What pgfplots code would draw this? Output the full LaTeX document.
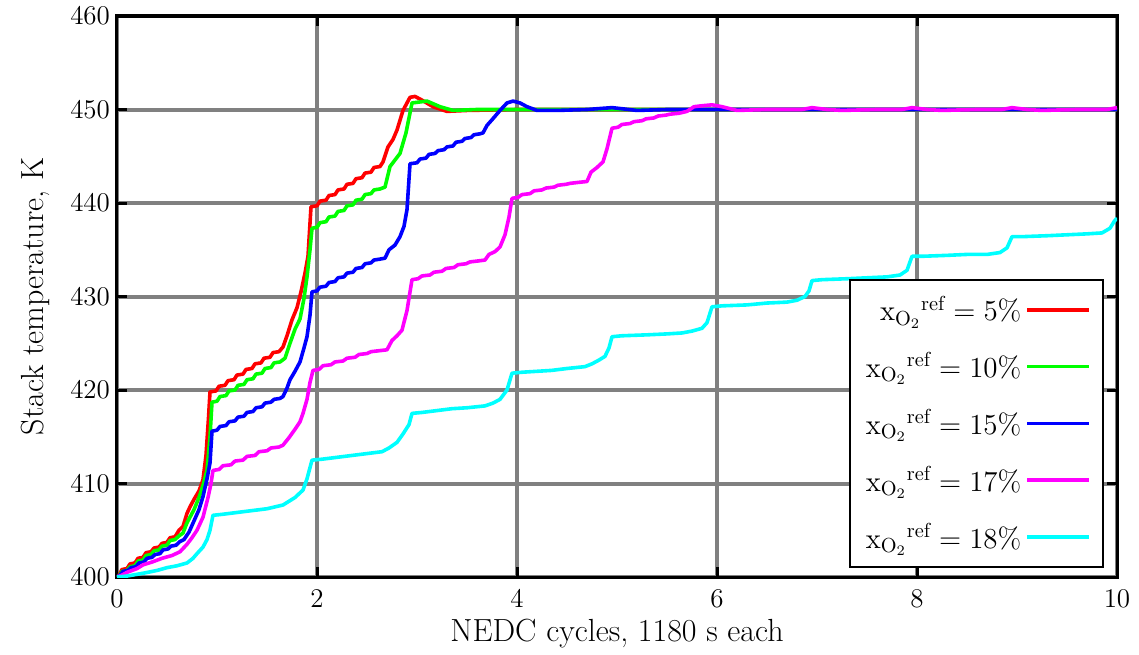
\RequirePackage{fix-cm}
\documentclass[border=0pt]{standalone}
\usepackage{fontspec}
\usepackage{pgfplots}
\pgfplotsset{compat=1.18}
\definecolor{cR}{RGB}{255,0,0}
\definecolor{cG}{RGB}{0,255,0}
\definecolor{cB}{RGB}{0,0,255}
\definecolor{cM}{RGB}{255,0,255}
\definecolor{cC}{RGB}{0,255,255}
\definecolor{gridgray}{RGB}{128,128,128}
\begin{document}
\begin{tikzpicture}
\begin{axis}[
  scale only axis,
  width=500pt, height=280.5pt,
  xmin=0, xmax=10, ymin=400, ymax=460,
  xtick={0,2,4,6,8,10},
  ytick={400,410,420,430,440,450,460},
  grid=major,
  major grid style={line width=2pt, color=gridgray},
  axis line style={line width=1.5pt, black},
  tick style={black, line width=1.5pt},
  major tick length=5pt,
  tick align=inside,
  ticklabel style={font=\fontsize{13.5}{13.5}\selectfont},
  xticklabel style={yshift=-3pt},
  xlabel={NEDC cycles, 1180 s each},
  ylabel={Stack temperature, K},
  every axis x label/.style={at={(axis description cs:0.5,-0.1)}, anchor=center, font=\fontsize{16}{16}\selectfont},
  every axis y label/.style={at={(axis description cs:-0.082,0.5)}, rotate=90, anchor=center, font=\fontsize{16}{16}\selectfont},
  legend cell align=right,
  legend plot pos=right,
  legend style={at={(rel axis cs:0.987,0.016)}, anchor=south east, draw=black, line width=1pt,
    fill=white, font=\fontsize{14.5}{14.5}\selectfont, row sep=10.5pt, inner xsep=6pt, inner ysep=6pt},
  legend image code/.code={\draw[#1] (0pt,0pt) -- (31pt,0pt);},
  every axis plot/.append style={line width=1.8pt, line join=round},
]
\coordinate (O) at (rel axis cs:0,0);
\addplot[cR] coordinates {
(0,400)(0.02,400.2)(0.05,400.8)(0.1,400.9)(0.13,401.4)(0.18,401.5)(0.21,402.0)(0.26,402.1)(0.29,402.6)(0.34,402.7)(0.37,403.1)(0.42,403.2)(0.45,403.6)(0.5,403.7)(0.53,404.2)(0.58,404.3)(0.62,405.0)(0.66,405.4)(0.7,406.8)(0.73,407.5)(0.77,408.3)(0.82,409.2)(0.86,410.4)(0.89,413)(0.915,417)(0.93,419.8)
(0.99,419.9)(1.02,420.4)(1.08,420.5)(1.11,421.0)(1.17,421.1)(1.20,421.6)(1.26,421.7)(1.29,422.2)(1.35,422.3)(1.38,422.8)(1.44,422.9)(1.47,423.4)(1.53,423.5)(1.56,424.0)(1.62,424.1)(1.66,424.6)
(1.70,425.8)(1.75,427.5)(1.80,428.8)(1.84,430.5)(1.88,432.5)(1.91,434.3)(1.94,439.6)
(2.0,439.7)(2.03,440.2)(2.09,440.3)(2.12,440.8)(2.18,440.9)(2.21,441.4)(2.27,441.5)(2.30,442.0)(2.36,442.1)(2.39,442.6)(2.45,442.7)(2.48,443.2)(2.54,443.3)(2.57,443.8)(2.63,443.9)(2.66,444.4)
(2.71,446.0)(2.76,446.8)(2.80,447.8)(2.86,449.9)(2.93,451.3)(2.98,451.4)(3.05,451.0)(3.16,450.3)(3.3,449.8)(3.5,449.9)(4,450.0)(10,450.0)
};
\addlegendentry{${\mathrm{x}_{\mathrm{O}_2}}^{\mathrm{ref}} = 5\%$}
\addplot[cG] coordinates {
(0,400)(0.02,400.1)(0.05,400.6)(0.1,400.7)(0.13,401.1)(0.18,401.2)(0.21,401.7)(0.26,401.8)(0.29,402.3)(0.34,402.4)(0.37,402.8)(0.42,402.9)(0.45,403.3)(0.5,403.4)(0.53,403.9)(0.58,404.0)(0.62,404.4)(0.66,404.7)(0.7,405.8)(0.77,407.2)(0.82,408.5)(0.86,409.8)(0.9,411.4)(0.93,415)(0.95,418.7)
(1.0,418.8)(1.03,419.3)(1.09,419.4)(1.12,419.9)(1.18,420.0)(1.21,420.5)(1.27,420.6)(1.30,421.1)(1.36,421.2)(1.39,421.7)(1.45,421.8)(1.48,422.3)(1.54,422.4)(1.57,422.9)(1.63,423.0)(1.68,423.4)(1.73,425.0)(1.78,426.5)(1.83,427.6)(1.87,429.8)(1.9,432.1)(1.93,435)(1.95,437.3)
(2.0,437.4)(2.03,437.9)(2.09,438.0)(2.12,438.5)(2.18,438.6)(2.21,439.1)(2.27,439.2)(2.30,439.7)(2.36,439.8)(2.39,440.3)(2.45,440.4)(2.48,440.9)(2.54,441.0)(2.57,441.4)(2.63,441.5)(2.68,441.7)(2.73,443.9)(2.78,444.6)(2.83,445.3)(2.89,447.5)(2.95,450.7)(3.1,450.9)(3.23,450.3)(3.36,449.9)(3.6,450.0)(10,450.0)
};
\addlegendentry{${\mathrm{x}_{\mathrm{O}_2}}^{\mathrm{ref}} = 10\%$}
\addplot[cB] coordinates {
(0,400)(0.03,400.2)(0.06,400.6)(0.11,400.7)(0.14,401.0)(0.19,401.1)(0.22,401.5)(0.27,401.6)(0.30,402.0)(0.35,402.1)(0.38,402.4)(0.43,402.5)(0.46,402.9)(0.51,403.0)(0.54,403.3)(0.59,403.4)(0.63,403.8)(0.67,404.0)(0.72,404.8)(0.77,406.0)(0.82,407.2)(0.86,408.6)(0.9,410.5)(0.93,412.2)(0.95,415.6)
(1.0,415.7)(1.03,416.1)(1.09,416.2)(1.12,416.6)(1.18,416.7)(1.21,417.1)(1.27,417.2)(1.30,417.6)(1.36,417.7)(1.39,418.1)(1.45,418.2)(1.48,418.6)(1.54,418.7)(1.57,419.0)(1.63,419.1)(1.66,419.3)(1.70,420.2)(1.73,421.1)(1.78,422.0)(1.83,423.0)(1.87,424.5)(1.9,425.7)(1.93,428)(1.95,430.5)
(2.0,430.6)(2.03,431.0)(2.09,431.1)(2.12,431.5)(2.18,431.6)(2.21,432.0)(2.27,432.1)(2.30,432.5)(2.36,432.6)(2.39,433.0)(2.45,433.1)(2.48,433.5)(2.54,433.6)(2.57,433.9)(2.63,434.0)(2.68,434.1)(2.72,435.0)(2.78,435.5)(2.83,436.4)(2.87,437.5)(2.9,439.3)(2.93,444.2)
(3.0,444.3)(3.03,444.7)(3.09,444.8)(3.12,445.2)(3.18,445.3)(3.21,445.6)(3.27,445.7)(3.30,446.0)(3.36,446.1)(3.39,446.5)(3.45,446.6)(3.48,446.9)(3.54,447.0)(3.57,447.3)(3.63,447.4)(3.66,447.5)(3.7,448.3)(3.75,448.9)(3.83,449.9)(3.9,450.7)(3.96,450.9)(4.03,450.7)(4.1,450.3)(4.2,449.9)(4.4,449.9)(4.7,450.0)(4.95,450.2)(5.2,449.9)(5.5,450.0)(10,450.0)
};
\addlegendentry{${\mathrm{x}_{\mathrm{O}_2}}^{\mathrm{ref}} = 15\%$}
\addplot[cM] coordinates {
(0,400)(0.05,400.2)(0.1,400.5)(0.2,400.9)(0.26,401.3)(0.35,401.6)(0.45,402.0)(0.55,402.3)(0.63,402.7)(0.7,403.5)(0.75,404.2)(0.8,405.0)(0.86,406.4)(0.91,408.5)(0.94,410)(0.96,411.4)
(1.02,411.5)(1.06,411.9)(1.14,412.0)(1.18,412.4)(1.26,412.5)(1.30,412.9)(1.38,413.0)(1.42,413.4)(1.50,413.5)(1.54,413.8)(1.62,413.9)(1.66,414.1)(1.72,414.9)(1.78,415.8)(1.83,416.6)(1.86,417.5)(1.9,419)(1.93,420.8)(1.96,422.1)
(2.02,422.2)(2.06,422.6)(2.14,422.7)(2.18,423.0)(2.26,423.1)(2.30,423.4)(2.38,423.5)(2.42,423.8)(2.50,423.9)(2.54,424.1)(2.62,424.2)(2.7,424.3)(2.75,425.3)(2.8,425.8)(2.85,426.4)(2.9,428.5)(2.95,431.8)
(3.01,431.9)(3.05,432.2)(3.13,432.3)(3.17,432.6)(3.25,432.7)(3.29,433.0)(3.37,433.1)(3.41,433.4)(3.49,433.5)(3.53,433.7)(3.61,433.8)(3.68,433.9)(3.72,434.5)(3.78,434.8)(3.83,435.3)(3.88,436.6)(3.92,438.5)(3.95,440.5)
(4.01,440.6)(4.05,440.9)(4.13,441.0)(4.17,441.3)(4.25,441.4)(4.29,441.6)(4.37,441.7)(4.41,441.9)(4.49,442.0)(4.53,442.1)(4.61,442.2)(4.7,442.3)(4.74,443.3)(4.8,443.8)(4.86,444.4)(4.9,445.8)(4.95,448.0)
(5.01,448.1)(5.05,448.4)(5.13,448.5)(5.17,448.7)(5.25,448.8)(5.29,449.0)(5.37,449.1)(5.41,449.3)(5.49,449.4)(5.53,449.5)(5.62,449.6)(5.7,449.8)(5.77,450.3)(5.85,450.4)(5.95,450.5)(6.05,450.3)(6.2,449.9)(6.5,450.0)(6.85,450.0)(6.95,450.2)(7.1,450.0)(7.25,449.9)(7.6,450.0)(7.85,450.0)(7.95,450.2)(8.1,450.0)(8.25,449.9)(8.6,450.0)(8.85,450.0)(8.95,450.2)(9.1,450.0)(9.25,449.9)(9.6,450.0)(9.9,450.0)(10,450.2)
};
\addlegendentry{${\mathrm{x}_{\mathrm{O}_2}}^{\mathrm{ref}} = 17\%$}
\addplot[cC] coordinates {
(0,400)(0.1,400.1)(0.26,400.4)(0.4,400.7)(0.5,401.0)(0.6,401.2)(0.7,401.5)(0.76,402.0)(0.8,402.5)(0.86,403.2)(0.9,404.0)(0.93,405.0)(0.96,406.6)
(1.05,406.7)(1.2,406.9)(1.35,407.1)(1.5,407.3)(1.66,407.7)(1.72,408.1)(1.78,408.5)(1.86,409.3)(1.9,410.5)(1.95,412.5)
(2.05,412.6)(2.2,412.8)(2.35,413.0)(2.5,413.2)(2.65,413.4)(2.72,413.8)(2.8,414.4)(2.86,415.3)(2.92,416.3)(2.95,417.5)
(3.05,417.6)(3.2,417.8)(3.35,418.0)(3.5,418.1)(3.68,418.3)(3.76,418.6)(3.83,419.0)(3.9,420.0)(3.95,421.8)
(4.05,421.9)(4.2,422.0)(4.35,422.1)(4.5,422.3)(4.68,422.5)(4.75,422.8)(4.82,423.2)(4.88,423.6)(4.92,424.5)(4.95,425.7)
(5.05,425.8)(5.3,425.9)(5.5,426.0)(5.65,426.1)(5.75,426.3)(5.85,426.6)(5.9,427.2)(5.95,428.9)
(6.05,429.0)(6.3,429.1)(6.5,429.3)(6.7,429.4)(6.8,429.6)(6.88,430.0)(6.92,430.6)(6.95,431.7)
(7.05,431.8)(7.3,431.9)(7.5,432.0)(7.7,432.1)(7.83,432.3)(7.9,432.8)(7.95,434.3)
(8.05,434.3)(8.3,434.4)(8.5,434.5)(8.7,434.5)(8.83,434.7)(8.9,435.2)(8.95,436.4)
(9.05,436.4)(9.3,436.5)(9.5,436.6)(9.7,436.7)(9.85,436.8)(9.93,437.3)(9.97,438.0)(10,438.4)
};
\addlegendentry{${\mathrm{x}_{\mathrm{O}_2}}^{\mathrm{ref}} = 18\%$}
\end{axis}
\pgfresetboundingbox
\path ([shift={(-58.5pt,-38.5pt)}]O) rectangle ([shift={(511pt,288.5pt)}]O);
\end{tikzpicture}
\end{document}
